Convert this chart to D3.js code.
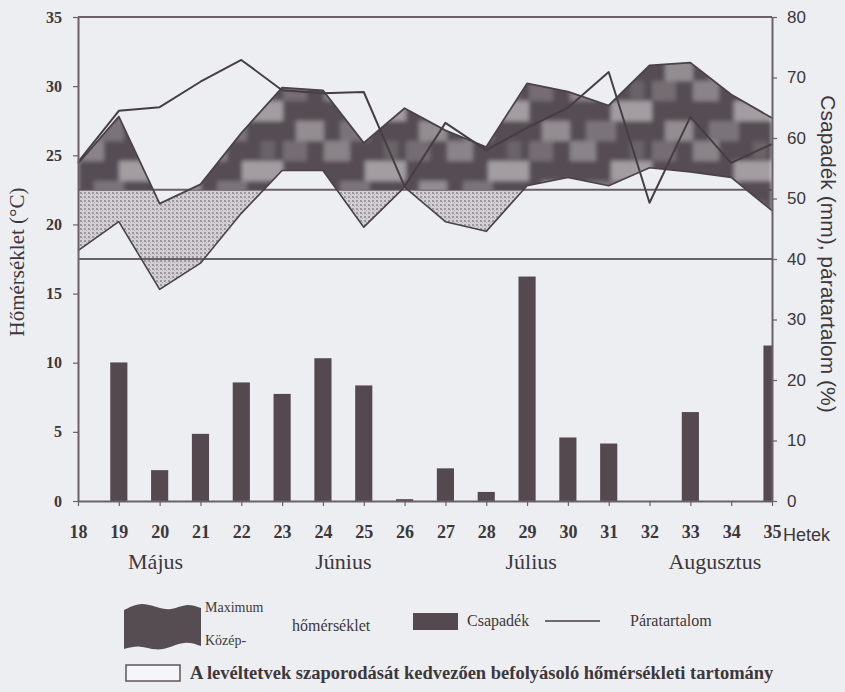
<!DOCTYPE html>
<html>
<head>
<meta charset="utf-8">
<script src="https://cdn.jsdelivr.net/npm/d3@7"></script>
<style>
  html, body { margin: 0; padding: 0; background: #eceef1; }
  svg { display: block; }
</style>
</head>
<body>
<svg id="chart" width="845" height="692"></svg>
<script>
// Weekly weather data, weeks 18–35
const weeks = [18, 19, 20, 21, 22, 23, 24, 25, 26, 27, 28, 29, 30, 31, 32, 33, 34, 35];
const maxTemp = [24.4, 27.8, 21.5, 22.9, 26.6, 29.9, 29.7, 25.9, 28.4, 26.8, 25.6, 30.2, 29.6, 28.6, 31.5, 31.7, 29.4, 27.7];
const meanTemp = [18.1, 20.2, 15.3, 17.2, 20.8, 23.9, 23.9, 19.8, 22.7, 20.2, 19.5, 22.8, 23.4, 22.8, 24.1, 23.8, 23.4, 21.0];
const humidity = [56, 64.5, 65.1, 69.3, 72.9, 67.9, 67.4, 67.6, 52, 62.5, 58, 61.7, 65, 70.9, 49.3, 63.5, 55.9, 59];
const rainfall = [0, 22.9, 5.1, 11.1, 19.6, 17.7, 23.6, 19.1, 0.3, 5.4, 1.5, 37.1, 10.5, 9.5, 0, 14.7, 0, 25.7];

// Temperature range favourable for aphid reproduction (°C)
const favourableRange = [17.5, 22.5];

const tempTicks = [0, 5, 10, 15, 20, 25, 30, 35];
const rightTicks = [0, 10, 20, 30, 40, 50, 60, 70, 80];
const months = ["Május", "Június", "Július", "Augusztus"];
const monthCentres = [19.9, 24.5, 29.1, 33.6];

(function draw() {
  const SERIF = "'Liberation Serif', 'Times New Roman', serif";
  const SANS = "'Liberation Sans', Arial, sans-serif";
  const svg = d3.select("#chart");
  const pL = 78, pR = 772, pT = 17, pB = 501;

  const x = d3.scaleLinear().domain([18, 35]).range([pL, pR]);
  const yT = d3.scaleLinear().domain([0, 35]).range([pB, pT]);
  const yR = d3.scaleLinear().domain([0, 80]).range([pB, pT]);

  const ink = "#3d373b";
  const axisCol = "#6a6067";
  const dark = "#554d52";
  const barCol = "#54494f";

  const defs = svg.append("defs");
  // speckled fill for the part of the band inside the favourable range
  const speck = defs.append("pattern").attr("id", "speck")
    .attr("width", 4).attr("height", 4).attr("patternUnits", "userSpaceOnUse");
  speck.append("rect").attr("width", 4).attr("height", 4).attr("fill", "#d2d0d4");
  speck.append("rect").attr("x", 0).attr("y", 0).attr("width", 2).attr("height", 2).attr("fill", "#9c979c");
  speck.append("rect").attr("x", 2).attr("y", 2).attr("width", 1).attr("height", 1).attr("fill", "#aca7ac");

  // mottled fill for the part of the band above the favourable range
  const mottle = defs.append("pattern").attr("id", "mottle")
    .attr("width", 123).attr("height", 60).attr("patternUnits", "userSpaceOnUse")
    .attr("x", pL).attr("y", pT + 4);
  mottle.append("rect").attr("width", 123).attr("height", 60).attr("fill", dark);
  [[0, 0, 26, 20, "#8a8388"], [41, 20, 41, 20, "#a39da1"], [82, 0, 24, 20, "#746d72"],
   [16, 40, 30, 20, "#7a7378"], [95, 40, 28, 20, "#938d91"], [60, 0, 14, 18, "#6a6368"]]
    .forEach(([rx, ry, rw, rh, c]) => mottle.append("rect")
      .attr("x", rx).attr("y", ry).attr("width", rw).attr("height", rh).attr("fill", c));
  defs.append("filter").attr("id", "soft").attr("x", "-2%").attr("y", "-5%").attr("width", "104%").attr("height", "110%")
    .append("feGaussianBlur").attr("stdDeviation", 2.2);

  defs.append("clipPath").attr("id", "plotClip")
    .append("rect").attr("x", pL).attr("y", pT).attr("width", pR - pL).attr("height", pB - pT);
  // dark part: above the upper limit of the range, and the late-August tail
  const cutY = yT(favourableRange[1]);
  const darkClip = defs.append("clipPath").attr("id", "aboveClip");
  darkClip.append("rect").attr("x", pL).attr("y", pT).attr("width", pR - pL).attr("height", cutY - pT);
  darkClip.append("rect").attr("x", x(34)).attr("y", pT).attr("width", pR - x(34)).attr("height", pB - pT);
  defs.append("clipPath").attr("id", "belowClip")
    .append("rect").attr("x", pL).attr("y", cutY).attr("width", x(34) - pL).attr("height", pB - cutY);

  const rows = weeks.map((w, i) => ({ w, max: maxTemp[i], mean: meanTemp[i], hum: humidity[i], rain: rainfall[i] }));

  // precipitation bars (right axis)
  const barW = (x(19) - x(18)) * 0.42;
  svg.append("g").attr("clip-path", "url(#plotClip)")
    .selectAll("rect").data(rows.filter(d => d.rain > 0)).join("rect")
    .attr("x", d => x(d.w) - barW / 2)
    .attr("width", barW)
    .attr("y", d => yR(d.rain))
    .attr("height", d => yR(0) - yR(d.rain))
    .attr("fill", barCol);

  // temperature band between mean and maximum temperature
  const band = d3.area().x(d => x(d.w)).y0(d => yT(d.mean)).y1(d => yT(d.max));
  svg.append("path").datum(rows).attr("d", band)
    .attr("fill", "url(#speck)").attr("clip-path", "url(#belowClip)");

  // favourable range boundaries
  svg.selectAll("line.range").data(favourableRange).join("line")
    .attr("class", "range")
    .attr("x1", pL).attr("x2", pR)
    .attr("y1", d => yT(d)).attr("y2", d => yT(d))
    .attr("stroke", axisCol).attr("stroke-width", 2);

  // mottled dark part: blurred texture cut to the band outline
  defs.append("clipPath").attr("id", "bandClip")
    .append("path").datum(rows).attr("d", band);
  svg.append("g").attr("clip-path", "url(#aboveClip)")
    .append("g").attr("clip-path", "url(#bandClip)")
    .append("rect").attr("x", pL).attr("y", pT).attr("width", pR - pL).attr("height", pB - pT)
    .attr("fill", "url(#mottle)").attr("filter", "url(#soft)");

  const maxLine = d3.line().x(d => x(d.w)).y(d => yT(d.max));
  const meanLine = d3.line().x(d => x(d.w)).y(d => yT(d.mean));
  svg.append("path").datum(rows).attr("d", maxLine)
    .attr("fill", "none").attr("stroke", "#4a4247").attr("stroke-width", 1.8).attr("stroke-linejoin", "round");
  svg.append("path").datum(rows).attr("d", meanLine)
    .attr("fill", "none").attr("stroke", "#4a4247").attr("stroke-width", 1.6).attr("stroke-linejoin", "round");

  // relative humidity line (right axis)
  const humLine = d3.line().x(d => x(d.w)).y(d => yR(d.hum));
  svg.append("path").datum(rows).attr("d", humLine)
    .attr("fill", "none").attr("stroke", "#463e43").attr("stroke-width", 2).attr("stroke-linejoin", "round");

  // frame top
  svg.append("line").attr("x1", pL).attr("x2", pR).attr("y1", pT).attr("y2", pT)
    .attr("stroke", axisCol).attr("stroke-width", 2);

  // axes
  function styleAxis(g) {
    g.attr("font-family", null).attr("font-size", null);
    g.select(".domain").attr("stroke", axisCol).attr("stroke-width", 2);
    g.selectAll(".tick line").attr("stroke", axisCol).attr("stroke-width", 1.2);
    g.selectAll(".tick text").attr("fill", ink);
  }
  const gL = svg.append("g").attr("transform", `translate(${pL},0)`)
    .call(d3.axisLeft(yT).tickValues(tempTicks).tickSize(5).tickSizeOuter(0).tickPadding(11))
    .call(styleAxis);
  gL.selectAll(".tick text").attr("font-family", SERIF).attr("font-size", 16).attr("font-weight", "bold");

  const gR = svg.append("g").attr("transform", `translate(${pR},0)`)
    .call(d3.axisRight(yR).tickValues(rightTicks).tickSize(5).tickSizeOuter(0).tickPadding(10))
    .call(styleAxis);
  gR.selectAll(".tick text").attr("font-family", SANS).attr("font-size", 17);

  const gB = svg.append("g").attr("transform", `translate(0,${pB})`)
    .call(d3.axisBottom(x).tickValues(weeks).tickFormat(d3.format("d")).tickSize(5).tickSizeOuter(0).tickPadding(19))
    .call(styleAxis);
  gB.selectAll(".tick text").attr("font-family", SERIF).attr("font-size", 18).attr("font-weight", "bold");

  svg.append("text").attr("font-family", SANS).attr("x", 783).attr("y", 541)
    .attr("font-size", 18).attr("fill", ink).text("Hetek");

  // axis titles
  svg.append("text").attr("font-family", SERIF)
    .attr("transform", `translate(24,${(pT + pB) / 2 + 3}) rotate(-90)`)
    .attr("text-anchor", "middle").attr("font-size", 21).attr("fill", ink)
    .text("Hőmérséklet (°C)");
  svg.append("text").attr("font-family", SANS)
    .attr("transform", `translate(821,${(pT + pB) / 2 - 5}) rotate(90)`)
    .attr("text-anchor", "middle").attr("font-size", 21).attr("fill", ink)
    .text("Csapadék (mm), páratartalom (%)");

  // month labels
  svg.selectAll("text.month").data(months).join("text")
    .attr("class", "month").attr("font-family", SERIF)
    .attr("x", (d, i) => x(monthCentres[i])).attr("y", 569)
    .attr("text-anchor", "middle").attr("font-size", 22).attr("fill", ink)
    .text(d => d);

  // legend
  const lg = svg.append("g").attr("font-family", SERIF).attr("fill", ink);
  const wave = d3.line().curve(d3.curveBasis);
  const topEdge = [[124, 610], [140, 602], [156, 607], [171, 611], [186, 603], [201, 608]];
  const botEdge = [[201, 646], [186, 641], [171, 647], [156, 651], [140, 645], [124, 649]];
  lg.append("path")
    .attr("d", wave(topEdge) + "L" + wave(botEdge).slice(1) + "Z")
    .attr("fill", dark);
  lg.append("text").attr("x", 205).attr("y", 612).attr("font-size", 14).text("Maximum");
  lg.append("text").attr("x", 205).attr("y", 645).attr("font-size", 14).text("Közép-");
  lg.append("text").attr("x", 292).attr("y", 631).attr("font-size", 16).text("hőmérséklet");
  lg.append("rect").attr("x", 413).attr("y", 613).attr("width", 45).attr("height", 17).attr("fill", barCol);
  lg.append("text").attr("x", 467).attr("y", 626).attr("font-size", 16).text("Csapadék");
  lg.append("line").attr("x1", 545).attr("x2", 600).attr("y1", 621).attr("y2", 621)
    .attr("stroke", "#463e43").attr("stroke-width", 1.5);
  lg.append("text").attr("x", 630).attr("y", 626).attr("font-size", 16).text("Páratartalom");
  lg.append("rect").attr("x", 126).attr("y", 665).attr("width", 54).attr("height", 16)
    .attr("fill", "#f6f6f8").attr("stroke", "#5e545a").attr("stroke-width", 1.5);
  lg.append("text").attr("x", 190).attr("y", 679)
    .attr("font-size", 18.5).attr("font-weight", "bold")
    .text("A levéltetvek szaporodását kedvezően befolyásoló hőmérsékleti tartomány");
})();
</script>
</body>
</html>
